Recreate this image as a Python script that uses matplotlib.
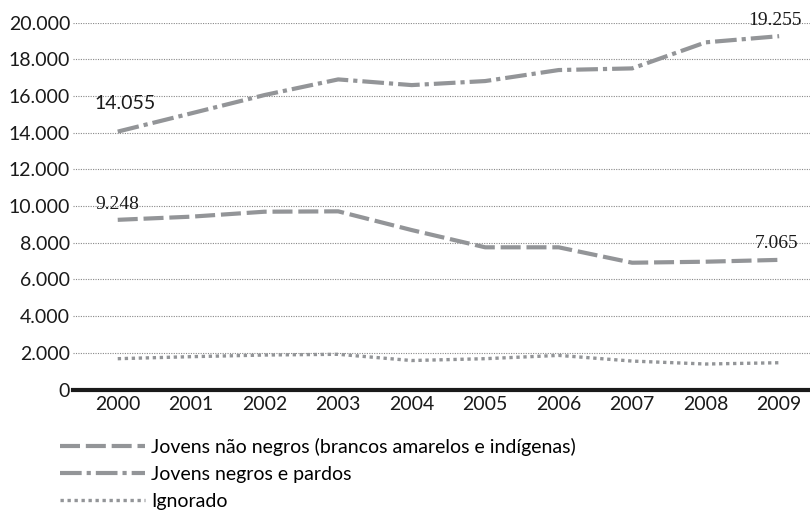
import matplotlib
matplotlib.use("Agg")
import matplotlib.pyplot as plt
from matplotlib.ticker import FuncFormatter

anos = [2000, 2001, 2002, 2003, 2004, 2005, 2006, 2007, 2008, 2009]
nao_negros = [9248, 9420, 9690, 9710, 8690, 7750, 7750, 6910, 6965, 7065]
negros = [14055, 15050, 16050, 16900, 16590, 16810, 17410, 17500, 18920, 19255]
ignorado = [1680, 1790, 1880, 1920, 1580, 1680, 1860, 1550, 1390, 1460]

nomes = ["Jovens não negros (brancos amarelos e indígenas)",
         "Jovens negros e pardos",
         "Ignorado"]
yticks = list(range(0, 20001, 2000))

plt.rcParams['font.family'] = ['Lato', 'DejaVu Sans']
cinza = '#939598'

fig = plt.figure(figsize=(8.1, 5.13), dpi=100)
ax = fig.add_axes([0.09, 0.2407, 0.91, 0.7154])

l1, = ax.plot(anos, nao_negros, color=cinza, lw=3.0, dashes=(4.8, 1.4),
              solid_capstyle='butt', dash_capstyle='butt')
l2, = ax.plot(anos, negros, color=cinza, lw=3.0, dashes=(5.2, 1.2, 1.0, 1.2),
              dash_capstyle='butt')
l3, = ax.plot(anos, ignorado, color=cinza, lw=2.4, dashes=(1.0, 1.1),
              dash_capstyle='butt')

ax.set_xlim(1999.39, 2009.42)
ax.set_ylim(0, 20000)
ax.set_xticks(anos)
ax.set_yticks(yticks)
ax.yaxis.set_major_formatter(FuncFormatter(lambda v, p: f"{int(v):,}".replace(",", ".")))
ax.tick_params(axis='both', length=0, labelsize=14, colors='#1a1a1a')
ax.tick_params(axis='y', pad=2)
ax.tick_params(axis='x', pad=5)

ax.grid(axis='y', color='#888888', linestyle=(0, (1, 1.2)), linewidth=0.8)
ax.set_axisbelow(True)
for lado in ['top', 'right', 'left']:
    ax.spines[lado].set_visible(False)
ax.spines['bottom'].set_linewidth(3)
ax.spines['bottom'].set_color('#1a1a1a')

# rótulos dos valores extremos
serif = ['Liberation Serif', 'DejaVu Serif']
ax.annotate(f"{negros[0]:,}".replace(",", "."), (anos[0], negros[0]),
            xytext=(5, 20), textcoords='offset points', ha='center', va='center',
            fontsize=14, color='#1a1a1a')
ax.annotate(f"{nao_negros[0]:,}".replace(",", "."), (anos[0], nao_negros[0]),
            xytext=(0, 11), textcoords='offset points', ha='center', va='center',
            fontsize=14, color='#1a1a1a', family=serif)
ax.annotate(f"{nao_negros[-1]:,}".replace(",", "."), (anos[-1], nao_negros[-1]),
            xytext=(-1.5, 12), textcoords='offset points', ha='center', va='center',
            fontsize=14, color='#1a1a1a', family=serif)
ax.annotate(f"{negros[-1]:,}".replace(",", "."), (anos[-1], negros[-1]),
            xytext=(-3, 11), textcoords='offset points', ha='center', va='center',
            fontsize=14, color='#1a1a1a', family=serif)

fig.legend([l1, l2, l3], nomes, loc='upper left', bbox_to_anchor=(0.074, 0.146),
           frameon=False, fontsize=14, handlelength=4.4, handletextpad=0.3,
           labelspacing=0.5, borderaxespad=0, borderpad=0)

fig.savefig("out.png", dpi=100)
